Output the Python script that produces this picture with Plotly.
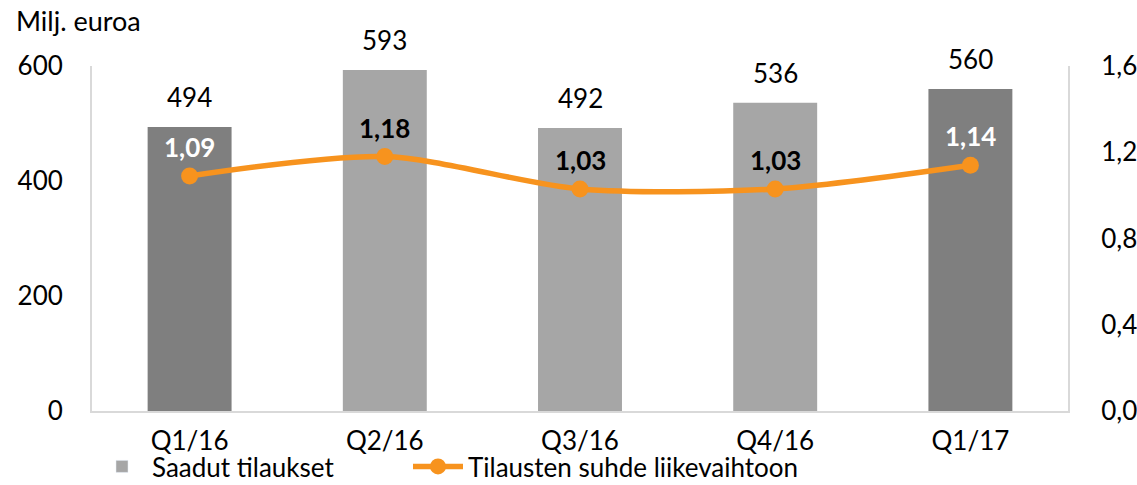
import plotly.graph_objects as go

categories = ["Q1/16", "Q2/16", "Q3/16", "Q4/16", "Q1/17"]
orders = [494, 593, 492, 536, 560]
ratio = [1.09, 1.18, 1.03, 1.03, 1.14]
bar_colors = ["#7f7f7f", "#a6a6a6", "#a6a6a6", "#a6a6a6", "#7f7f7f"]
ratio_label_colors = ["white", "black", "black", "black", "white"]

FONT = "Lato"
FS = 26
ORANGE = "#F7931E"
AXIS = "#d9d9d9"
W, H = 1137, 485
ML, MR, MT, MB = 92, 69, 66, 74
PW = W - ML - MR
PH = H - MT - MB

fig = go.Figure()
fig.add_trace(go.Bar(
    x=categories, y=orders, marker=dict(color=bar_colors, line=dict(width=0)),
    width=0.43, showlegend=False, yaxis="y", hoverinfo="skip"))
# legend entry for the bars
fig.add_trace(go.Bar(
    x=categories, y=[None]*5, marker=dict(color="#a6a6a6"),
    name="Saadut tilaukset", yaxis="y", legend="legend"))
fig.add_trace(go.Scatter(
    x=categories, y=ratio, mode="lines+markers", yaxis="y2",
    line=dict(color=ORANGE, width=5.5, shape="spline", smoothing=0.8),
    marker=dict(color=ORANGE, size=17),
    name="Tilausten suhde liikevaihtoon", legend="legend2"))

for c, v in zip(categories, orders):
    fig.add_annotation(x=c, y=v, xref="x", yref="y", text=str(v),
                       showarrow=False, yshift=30,
                       font=dict(family=FONT, size=FS, color="black"))
for c, v, col in zip(categories, ratio, ratio_label_colors):
    fig.add_annotation(x=c, y=v, xref="x", yref="y2",
                       text="<b>%s</b>" % ("%.2f" % v).replace(".", ","),
                       showarrow=False, yshift=29,
                       font=dict(family=FONT, size=FS, color=col))

fig.add_annotation(x=(14 - ML) / PW, y=(MT - 20) / PH + 1, xref="paper", yref="paper",
                   text="Milj. euroa", showarrow=False, xanchor="left", yanchor="middle",
                   font=dict(family=FONT, size=27))

tick_common = dict(ticks="outside", tickcolor="rgba(0,0,0,0)", automargin=False,
                   tickfont=dict(family=FONT, size=FS), showgrid=False, zeroline=False,
                   showline=True, linecolor=AXIS, linewidth=2)
legend_common = dict(orientation="h", xanchor="left", y=-32 / PH, yanchor="top",
                     font=dict(family=FONT, size=FS), bgcolor="rgba(0,0,0,0)",
                     itemwidth=50)

fig.update_layout(
    width=W, height=H,
    margin=dict(l=ML, r=MR, t=MT, b=MB, autoexpand=False),
    paper_bgcolor="white", plot_bgcolor="white",
    separators=", ",
    barmode="overlay",
    font=dict(family=FONT, size=FS, color="black"),
    xaxis=dict(ticklen=6, **tick_common),
    yaxis=dict(range=[0, 600], tickvals=[0, 200, 400, 600], ticklen=22, **tick_common),
    yaxis2=dict(range=[0, 1.6], tickvals=[0, 0.4, 0.8, 1.2, 1.6], tickformat=".1f",
                overlaying="y", side="right", ticklen=26, **tick_common),
    legend=dict(x=0, **legend_common),
    legend2=dict(x=(408 - ML) / PW, **legend_common),
)

fig.write_html("out.html", config={"displayModeBar": False},
               post_script="document.body.style.margin='0';"
                           "document.body.style.overflow='hidden';")
